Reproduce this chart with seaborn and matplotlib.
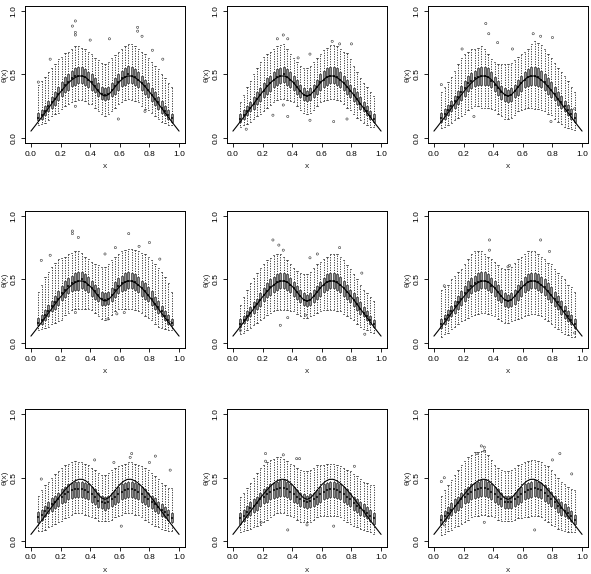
import numpy as np
import pandas as pd
import matplotlib
matplotlib.use("Agg")
import matplotlib.pyplot as plt
import seaborn as sns

# ---------------- data ----------------
xs = [0.05, 0.0725, 0.095, 0.1175, 0.14, 0.1625, 0.185, 0.2075, 0.23, 0.2525,
      0.275, 0.2975, 0.32, 0.3425, 0.365, 0.3875, 0.41, 0.4325, 0.455, 0.4775,
      0.5, 0.5225, 0.545, 0.5675, 0.59, 0.6125, 0.635, 0.6575, 0.68, 0.7025,
      0.725, 0.7475, 0.77, 0.7925, 0.815, 0.8375, 0.86, 0.8825, 0.905, 0.9275,
      0.95]

curve_x = [0.0, 0.025, 0.05, 0.075, 0.1, 0.125, 0.15, 0.175, 0.2, 0.225,
           0.25, 0.275, 0.3, 0.325, 0.35, 0.375, 0.4, 0.425, 0.45, 0.475,
           0.5, 0.525, 0.55, 0.575, 0.6, 0.625, 0.65, 0.675, 0.7, 0.725,
           0.75, 0.775, 0.8, 0.825, 0.85, 0.875, 0.9, 0.925, 0.95, 0.975, 1.0]
curve_y = [0.055, 0.092, 0.130, 0.168, 0.207, 0.246, 0.286, 0.325, 0.363, 0.398,
           0.430, 0.457, 0.477, 0.488, 0.487, 0.472, 0.446, 0.412, 0.375, 0.343,
           0.330, 0.343, 0.375, 0.412, 0.446, 0.472, 0.487, 0.488, 0.477, 0.457,
           0.430, 0.398, 0.363, 0.325, 0.286, 0.246, 0.207, 0.168, 0.130, 0.092, 0.055]

# panel 1
med_1 = [0.16,0.18,0.21,0.25,0.28,0.31,0.35,0.38,0.42,0.44, 0.47,0.49,0.49,0.49,0.48,0.46,0.44,0.41,0.38,0.35,
         0.34,0.35,0.38,0.41,0.44,0.47,0.48,0.50,0.49,0.48, 0.46,0.43,0.41,0.38,0.34,0.31,0.28,0.24,0.21,0.18, 0.16]
q1_1 = [0.14,0.15,0.18,0.21,0.24,0.26,0.30,0.33,0.36,0.38, 0.41,0.42,0.43,0.43,0.42,0.40,0.38,0.36,0.33,0.31,
        0.30,0.31,0.33,0.35,0.38,0.41,0.42,0.43,0.43,0.42, 0.40,0.38,0.35,0.32,0.29,0.26,0.23,0.20,0.18,0.15, 0.13]
q3_1 = [0.20,0.22,0.25,0.29,0.32,0.36,0.40,0.44,0.48,0.50, 0.53,0.55,0.56,0.56,0.54,0.52,0.50,0.47,0.43,0.40,
        0.39,0.40,0.43,0.47,0.50,0.53,0.55,0.57,0.56,0.54, 0.52,0.49,0.46,0.43,0.39,0.36,0.32,0.29,0.25,0.22, 0.19]
lo_1 = [0.10,0.11,0.12,0.14,0.17,0.19,0.20,0.23,0.25,0.27, 0.28,0.29,0.30,0.30,0.29,0.27,0.27,0.24,0.21,0.19,
        0.17,0.19,0.21,0.24,0.27,0.28,0.30,0.31,0.30,0.29, 0.28,0.25,0.23,0.22,0.20,0.17,0.15,0.13,0.12,0.10, 0.10]
hi_1 = [0.42,0.45,0.48,0.52,0.55,0.58,0.62,0.64,0.67,0.68, 0.70,0.72,0.72,0.71,0.70,0.68,0.66,0.63,0.61,0.59,
        0.58,0.60,0.63,0.65,0.68,0.70,0.72,0.74,0.74,0.72, 0.70,0.68,0.66,0.63,0.60,0.57,0.54,0.50,0.47,0.43, 0.40]
out_x_1 = [0.28, 0.30, 0.30, 0.30, 0.40, 0.53, 0.72, 0.72, 0.75, 0.82, 0.89, 0.13, 0.05, 0.30, 0.59, 0.77]
out_y_1 = [0.88, 0.92, 0.83, 0.81, 0.77, 0.78, 0.87, 0.84, 0.80, 0.69, 0.62, 0.62, 0.44, 0.25, 0.15, 0.21]

# panel 2
med_2 = [0.15,0.18,0.21,0.24,0.27,0.31,0.34,0.37,0.41,0.43, 0.46,0.48,0.49,0.50,0.48,0.46,0.43,0.40,0.37,0.34,
         0.33,0.34,0.37,0.40,0.44,0.46,0.48,0.49,0.49,0.48, 0.46,0.43,0.40,0.37,0.34,0.31,0.27,0.24,0.21,0.17, 0.15]
q1_2 = [0.13,0.15,0.18,0.21,0.23,0.27,0.29,0.32,0.35,0.37, 0.40,0.42,0.43,0.44,0.42,0.40,0.38,0.35,0.32,0.30,
        0.29,0.30,0.32,0.35,0.38,0.40,0.42,0.43,0.43,0.42, 0.40,0.38,0.35,0.32,0.29,0.27,0.23,0.21,0.18,0.15, 0.13]
q3_2 = [0.19,0.22,0.25,0.28,0.32,0.36,0.39,0.43,0.47,0.49, 0.52,0.54,0.55,0.56,0.54,0.52,0.49,0.46,0.42,0.39,
        0.37,0.39,0.42,0.46,0.50,0.53,0.55,0.56,0.56,0.55, 0.52,0.49,0.46,0.42,0.39,0.36,0.32,0.28,0.25,0.21, 0.19]
lo_2 = [0.09,0.10,0.11,0.13,0.15,0.17,0.19,0.21,0.24,0.26, 0.28,0.30,0.31,0.31,0.30,0.29,0.28,0.25,0.22,0.20,
        0.19,0.20,0.22,0.25,0.28,0.29,0.30,0.31,0.31,0.30, 0.29,0.27,0.24,0.22,0.19,0.16,0.14,0.12,0.10,0.09, 0.09]
hi_2 = [0.28,0.34,0.40,0.45,0.50,0.55,0.60,0.64,0.66,0.68, 0.70,0.72,0.73,0.74,0.70,0.66,0.63,0.60,0.57,0.55,
        0.55,0.57,0.60,0.63,0.66,0.69,0.71,0.73,0.73,0.72, 0.70,0.68,0.67,0.62,0.57,0.52,0.47,0.43,0.40,0.36, 0.33]
out_x_2 = [0.34, 0.30, 0.37, 0.44, 0.52, 0.72, 0.80, 0.67, 0.27, 0.37, 0.52, 0.77, 0.68, 0.09, 0.34]
out_y_2 = [0.81, 0.78, 0.78, 0.63, 0.66, 0.74, 0.74, 0.76, 0.18, 0.17, 0.14, 0.15, 0.13, 0.07, 0.26]

# panel 3
med_3 = [0.16,0.19,0.22,0.25,0.29,0.32,0.36,0.39,0.43,0.45, 0.47,0.48,0.49,0.49,0.48,0.45,0.42,0.39,0.36,0.34,
         0.33,0.34,0.37,0.40,0.43,0.46,0.48,0.49,0.49,0.48, 0.46,0.44,0.41,0.38,0.35,0.31,0.28,0.25,0.22,0.19, 0.16]
q1_3 = [0.13,0.15,0.18,0.21,0.24,0.27,0.30,0.33,0.37,0.39, 0.41,0.42,0.42,0.42,0.42,0.40,0.37,0.34,0.31,0.29,
        0.28,0.29,0.32,0.34,0.37,0.40,0.41,0.42,0.42,0.41, 0.40,0.38,0.35,0.32,0.30,0.26,0.24,0.21,0.18,0.15, 0.13]
q3_3 = [0.20,0.23,0.26,0.29,0.33,0.37,0.41,0.45,0.49,0.51, 0.53,0.55,0.56,0.56,0.55,0.52,0.48,0.45,0.41,0.39,
        0.38,0.39,0.42,0.46,0.49,0.52,0.54,0.56,0.56,0.55, 0.53,0.50,0.47,0.44,0.40,0.36,0.33,0.29,0.26,0.23, 0.20]
lo_3 = [0.08,0.09,0.10,0.12,0.14,0.16,0.17,0.19,0.22,0.24, 0.25,0.25,0.24,0.24,0.24,0.23,0.22,0.19,0.17,0.15,
        0.15,0.16,0.18,0.21,0.22,0.23,0.24,0.24,0.23,0.23, 0.22,0.21,0.19,0.18,0.15,0.13,0.11,0.09,0.08,0.07, 0.06]
hi_3 = [0.36,0.40,0.44,0.48,0.53,0.58,0.63,0.66,0.68,0.70, 0.70,0.71,0.72,0.70,0.66,0.62,0.60,0.58,0.58,0.58,
        0.58,0.59,0.61,0.64,0.66,0.68,0.70,0.74,0.76,0.75, 0.73,0.70,0.66,0.63,0.59,0.55,0.52,0.49,0.45,0.40, 0.36]
out_x_3 = [0.35, 0.37, 0.53, 0.67, 0.72, 0.80, 0.27, 0.79, 0.19, 0.43, 0.05, 0.95]
out_y_3 = [0.90, 0.82, 0.70, 0.82, 0.80, 0.79, 0.17, 0.13, 0.70, 0.75, 0.42, 0.23]

# panel 4
med_4 = [0.16,0.18,0.22,0.25,0.29,0.32,0.35,0.39,0.42,0.45, 0.47,0.48,0.49,0.50,0.48,0.46,0.43,0.41,0.38,0.35,
         0.34,0.35,0.38,0.42,0.45,0.47,0.48,0.49,0.49,0.48, 0.46,0.43,0.41,0.38,0.35,0.31,0.28,0.25,0.21,0.18, 0.16]
q1_4 = [0.14,0.15,0.18,0.21,0.25,0.27,0.30,0.34,0.36,0.39, 0.41,0.42,0.42,0.43,0.42,0.40,0.37,0.35,0.33,0.30,
        0.30,0.31,0.33,0.36,0.39,0.41,0.42,0.43,0.43,0.42, 0.40,0.37,0.35,0.33,0.30,0.27,0.24,0.21,0.18,0.15, 0.14]
q3_4 = [0.20,0.22,0.26,0.30,0.33,0.37,0.41,0.45,0.49,0.51, 0.53,0.55,0.56,0.56,0.54,0.52,0.49,0.46,0.43,0.40,
        0.39,0.40,0.43,0.48,0.51,0.53,0.55,0.56,0.55,0.54, 0.52,0.49,0.47,0.44,0.41,0.36,0.33,0.29,0.25,0.22, 0.19]
lo_4 = [0.10,0.11,0.12,0.13,0.15,0.16,0.17,0.18,0.22,0.24, 0.26,0.27,0.27,0.27,0.27,0.27,0.26,0.24,0.21,0.19,
        0.18,0.19,0.22,0.25,0.27,0.27,0.27,0.27,0.27,0.26, 0.25,0.24,0.21,0.20,0.18,0.15,0.13,0.12,0.11,0.10, 0.10]
hi_4 = [0.40,0.46,0.52,0.56,0.60,0.63,0.66,0.67,0.68,0.70, 0.71,0.72,0.72,0.71,0.68,0.66,0.64,0.62,0.61,0.60,
        0.60,0.62,0.65,0.68,0.70,0.72,0.73,0.74,0.74,0.73, 0.72,0.71,0.70,0.68,0.65,0.62,0.59,0.56,0.52,0.47, 0.40]
out_x_4 = [0.28, 0.28, 0.32, 0.66, 0.80, 0.73, 0.57, 0.07, 0.13, 0.87, 0.50, 0.52, 0.58, 0.30, 0.63, 0.94]
out_y_4 = [0.88, 0.86, 0.83, 0.86, 0.79, 0.76, 0.75, 0.65, 0.69, 0.66, 0.70, 0.19, 0.23, 0.24, 0.24, 0.16]

# panel 5
med_5 = [0.15,0.18,0.21,0.24,0.28,0.31,0.34,0.38,0.41,0.44, 0.46,0.48,0.49,0.49,0.48,0.46,0.43,0.40,0.37,0.34,
         0.33,0.34,0.37,0.40,0.43,0.46,0.48,0.49,0.49,0.48, 0.46,0.43,0.40,0.37,0.34,0.31,0.27,0.24,0.21,0.18, 0.15]
q1_5 = [0.13,0.16,0.18,0.21,0.24,0.27,0.29,0.33,0.36,0.38, 0.40,0.42,0.43,0.43,0.42,0.40,0.37,0.35,0.32,0.30,
        0.29,0.30,0.32,0.35,0.37,0.40,0.42,0.43,0.43,0.42, 0.40,0.37,0.35,0.32,0.29,0.26,0.23,0.21,0.18,0.15, 0.13]
q3_5 = [0.19,0.21,0.25,0.28,0.32,0.35,0.39,0.43,0.47,0.50, 0.52,0.54,0.55,0.55,0.54,0.51,0.48,0.45,0.42,0.39,
        0.38,0.39,0.42,0.45,0.48,0.51,0.54,0.55,0.55,0.54, 0.52,0.49,0.46,0.42,0.39,0.36,0.32,0.28,0.25,0.21, 0.18]
lo_5 = [0.07,0.08,0.10,0.12,0.14,0.16,0.18,0.20,0.22,0.24, 0.25,0.26,0.26,0.26,0.26,0.25,0.25,0.23,0.21,0.20,
        0.20,0.21,0.22,0.24,0.25,0.26,0.26,0.26,0.26,0.25, 0.25,0.23,0.21,0.20,0.18,0.15,0.13,0.11,0.10,0.09, 0.08]
hi_5 = [0.30,0.36,0.42,0.47,0.51,0.55,0.59,0.62,0.65,0.67, 0.69,0.70,0.70,0.68,0.65,0.62,0.59,0.57,0.55,0.54,
        0.54,0.56,0.59,0.62,0.64,0.66,0.68,0.70,0.70,0.70, 0.68,0.65,0.61,0.58,0.54,0.50,0.46,0.42,0.39,0.36, 0.33]
out_x_5 = [0.27, 0.31, 0.34, 0.72, 0.52, 0.57, 0.87, 0.32, 0.37, 0.49, 0.05, 0.89]
out_y_5 = [0.81, 0.77, 0.73, 0.75, 0.67, 0.70, 0.55, 0.14, 0.20, 0.22, 0.10, 0.07]

# panel 6
med_6 = [0.15,0.19,0.22,0.25,0.29,0.32,0.35,0.39,0.42,0.45, 0.47,0.48,0.49,0.49,0.48,0.45,0.43,0.40,0.37,0.34,
         0.33,0.34,0.37,0.40,0.43,0.46,0.48,0.49,0.49,0.48, 0.46,0.44,0.41,0.38,0.35,0.32,0.28,0.25,0.21,0.18, 0.15]
q1_6 = [0.12,0.15,0.18,0.21,0.24,0.27,0.30,0.33,0.36,0.39, 0.41,0.42,0.43,0.43,0.42,0.40,0.37,0.34,0.32,0.29,
        0.28,0.29,0.31,0.34,0.37,0.40,0.42,0.43,0.43,0.42, 0.40,0.38,0.35,0.32,0.29,0.27,0.23,0.20,0.17,0.15, 0.12]
q3_6 = [0.19,0.22,0.26,0.29,0.33,0.37,0.41,0.45,0.49,0.51, 0.53,0.55,0.56,0.56,0.54,0.51,0.49,0.46,0.42,0.39,
        0.38,0.39,0.42,0.46,0.49,0.52,0.54,0.55,0.55,0.54, 0.52,0.50,0.47,0.44,0.40,0.37,0.33,0.29,0.25,0.22, 0.19]
lo_6 = [0.05,0.07,0.08,0.11,0.13,0.15,0.17,0.18,0.20,0.21, 0.22,0.23,0.24,0.24,0.23,0.22,0.21,0.19,0.17,0.16,
        0.16,0.17,0.18,0.19,0.20,0.21,0.22,0.23,0.23,0.22, 0.21,0.19,0.17,0.15,0.13,0.11,0.09,0.07,0.06,0.05, 0.05]
hi_6 = [0.42,0.44,0.46,0.50,0.53,0.56,0.58,0.62,0.66,0.70, 0.72,0.72,0.72,0.70,0.68,0.66,0.64,0.61,0.59,0.58,
        0.58,0.60,0.63,0.66,0.68,0.70,0.72,0.72,0.72,0.70, 0.68,0.66,0.63,0.62,0.58,0.55,0.53,0.50,0.46,0.44, 0.40]
out_x_6 = [0.375, 0.375, 0.72, 0.78, 0.07, 0.50, 0.51, 0.95]
out_y_6 = [0.81, 0.73, 0.81, 0.72, 0.45, 0.60, 0.61, 0.08]

# panel 7
med_7 = [0.19,0.21,0.24,0.26,0.29,0.31,0.33,0.35,0.37,0.39, 0.40,0.41,0.41,0.41,0.40,0.39,0.37,0.35,0.32,0.31,
         0.30,0.31,0.33,0.35,0.37,0.39,0.40,0.41,0.41,0.40, 0.39,0.37,0.35,0.33,0.31,0.29,0.27,0.25,0.23,0.21, 0.18]
q1_7 = [0.15,0.17,0.20,0.22,0.24,0.26,0.28,0.30,0.31,0.33, 0.34,0.35,0.35,0.35,0.34,0.33,0.31,0.29,0.27,0.26,
        0.25,0.26,0.28,0.29,0.31,0.33,0.34,0.35,0.35,0.34, 0.33,0.31,0.29,0.28,0.26,0.24,0.22,0.20,0.19,0.17, 0.15]
q3_7 = [0.23,0.25,0.28,0.31,0.34,0.36,0.38,0.41,0.43,0.45, 0.46,0.47,0.47,0.47,0.46,0.45,0.43,0.41,0.38,0.36,
        0.35,0.36,0.38,0.40,0.43,0.45,0.46,0.47,0.47,0.46, 0.45,0.43,0.41,0.38,0.36,0.34,0.31,0.29,0.27,0.25, 0.22]
lo_7 = [0.08,0.08,0.09,0.11,0.12,0.14,0.15,0.16,0.18,0.19, 0.21,0.22,0.22,0.22,0.21,0.20,0.19,0.18,0.16,0.16,
        0.16,0.16,0.17,0.19,0.20,0.21,0.22,0.22,0.22,0.21, 0.21,0.19,0.17,0.15,0.14,0.12,0.11,0.10,0.09,0.08, 0.08]
hi_7 = [0.36,0.40,0.44,0.47,0.50,0.53,0.55,0.58,0.60,0.61, 0.62,0.63,0.62,0.62,0.61,0.60,0.58,0.56,0.54,0.52,
        0.52,0.54,0.56,0.58,0.59,0.60,0.61,0.62,0.62,0.61, 0.60,0.59,0.58,0.56,0.54,0.51,0.49,0.46,0.44,0.42, 0.42]
out_x_7 = [0.43, 0.68, 0.67, 0.84, 0.94, 0.80, 0.07, 0.56, 0.61]
out_y_7 = [0.64, 0.69, 0.66, 0.67, 0.56, 0.62, 0.49, 0.62, 0.12]

# panel 8
med_8 = [0.18,0.20,0.23,0.26,0.28,0.30,0.33,0.35,0.37,0.39, 0.40,0.41,0.42,0.42,0.41,0.39,0.37,0.35,0.33,0.32,
         0.31,0.32,0.33,0.35,0.37,0.39,0.40,0.41,0.41,0.40, 0.39,0.37,0.35,0.33,0.30,0.28,0.26,0.24,0.22,0.20, 0.18]
q1_8 = [0.14,0.16,0.19,0.21,0.23,0.25,0.28,0.30,0.31,0.33, 0.34,0.35,0.36,0.36,0.35,0.33,0.31,0.30,0.28,0.27,
        0.26,0.27,0.28,0.29,0.31,0.33,0.34,0.35,0.35,0.34, 0.33,0.31,0.29,0.28,0.25,0.23,0.21,0.20,0.18,0.16, 0.14]
q3_8 = [0.22,0.25,0.28,0.31,0.33,0.35,0.38,0.41,0.43,0.45, 0.46,0.47,0.48,0.48,0.47,0.45,0.43,0.40,0.38,0.37,
        0.36,0.37,0.38,0.40,0.43,0.45,0.46,0.47,0.47,0.46, 0.45,0.43,0.41,0.38,0.35,0.33,0.31,0.29,0.27,0.25, 0.22]
lo_8 = [0.07,0.08,0.09,0.10,0.11,0.12,0.13,0.15,0.17,0.19, 0.21,0.22,0.22,0.22,0.21,0.20,0.19,0.17,0.15,0.15,
        0.15,0.15,0.17,0.19,0.20,0.20,0.20,0.20,0.20,0.20, 0.19,0.17,0.15,0.14,0.12,0.11,0.10,0.09,0.08,0.07, 0.06]
hi_8 = [0.35,0.38,0.42,0.46,0.50,0.54,0.58,0.60,0.62,0.64, 0.65,0.66,0.66,0.65,0.63,0.61,0.60,0.58,0.56,0.55,
        0.55,0.56,0.58,0.60,0.60,0.60,0.61,0.61,0.61,0.60, 0.59,0.58,0.56,0.55,0.53,0.51,0.49,0.47,0.46,0.44, 0.44]
out_x_8 = [0.22, 0.34, 0.43, 0.45, 0.22, 0.19, 0.37, 0.68, 0.50, 0.82]
out_y_8 = [0.69, 0.68, 0.65, 0.65, 0.63, 0.15, 0.09, 0.12, 0.13, 0.59]

# panel 9
med_9 = [0.17,0.20,0.22,0.25,0.28,0.30,0.33,0.35,0.37,0.39, 0.40,0.41,0.42,0.42,0.41,0.39,0.37,0.35,0.33,0.31,
         0.31,0.31,0.33,0.35,0.37,0.39,0.40,0.41,0.42,0.41, 0.40,0.38,0.36,0.33,0.31,0.28,0.26,0.24,0.22,0.20, 0.17]
q1_9 = [0.14,0.16,0.18,0.21,0.23,0.25,0.27,0.30,0.31,0.33, 0.34,0.35,0.36,0.36,0.35,0.33,0.31,0.29,0.28,0.26,
        0.26,0.26,0.28,0.29,0.31,0.33,0.34,0.35,0.36,0.35, 0.34,0.32,0.30,0.28,0.26,0.23,0.21,0.20,0.18,0.16, 0.14]
q3_9 = [0.21,0.24,0.27,0.30,0.33,0.35,0.38,0.41,0.43,0.45, 0.46,0.47,0.48,0.48,0.47,0.45,0.43,0.41,0.38,0.36,
        0.36,0.36,0.38,0.41,0.43,0.45,0.46,0.47,0.48,0.47, 0.46,0.44,0.42,0.39,0.36,0.33,0.31,0.29,0.27,0.24, 0.21]
lo_9 = [0.05,0.06,0.08,0.09,0.11,0.12,0.14,0.15,0.17,0.19, 0.20,0.20,0.21,0.21,0.20,0.20,0.19,0.17,0.16,0.16,
        0.16,0.16,0.17,0.18,0.18,0.19,0.19,0.20,0.20,0.20, 0.19,0.17,0.15,0.13,0.12,0.10,0.09,0.08,0.07,0.07, 0.07]
hi_9 = [0.36,0.40,0.44,0.48,0.52,0.56,0.60,0.63,0.66,0.68, 0.70,0.70,0.71,0.72,0.68,0.64,0.60,0.58,0.56,0.55,
        0.55,0.56,0.58,0.60,0.61,0.62,0.63,0.64,0.64,0.63, 0.62,0.60,0.59,0.56,0.53,0.50,0.47,0.45,0.43,0.41, 0.40]
out_x_9 = [0.32, 0.34, 0.29, 0.34, 0.85, 0.80, 0.93, 0.68, 0.34, 0.07, 0.05, 0.07]
out_y_9 = [0.75, 0.74, 0.69, 0.71, 0.69, 0.64, 0.53, 0.09, 0.15, 0.13, 0.47, 0.50]

x_ticks = [0.0, 0.2, 0.4, 0.6, 0.8, 1.0]
x_tick_labels = ["0.0", "0.2", "0.4", "0.6", "0.8", "1.0"]
y_ticks = [0.0, 0.5, 1.0]
y_tick_labels = ["0.0", "0.5", "1.0"]
x_label = "x"
y_label = "θ(x)"

panels = [
    (med_1, q1_1, q3_1, lo_1, hi_1, out_x_1, out_y_1),
    (med_2, q1_2, q3_2, lo_2, hi_2, out_x_2, out_y_2),
    (med_3, q1_3, q3_3, lo_3, hi_3, out_x_3, out_y_3),
    (med_4, q1_4, q3_4, lo_4, hi_4, out_x_4, out_y_4),
    (med_5, q1_5, q3_5, lo_5, hi_5, out_x_5, out_y_5),
    (med_6, q1_6, q3_6, lo_6, hi_6, out_x_6, out_y_6),
    (med_7, q1_7, q3_7, lo_7, hi_7, out_x_7, out_y_7),
    (med_8, q1_8, q3_8, lo_8, hi_8, out_x_8, out_y_8),
    (med_9, q1_9, q3_9, lo_9, hi_9, out_x_9, out_y_9),
]

# ---------------- style ----------------
sns.set_style("ticks")
plt.rcParams["font.family"] = ["Liberation Sans", "DejaVu Sans"]
plt.rcParams["axes.linewidth"] = 0.8
plt.rcParams["axes.edgecolor"] = "black"

W, H = 591, 574
fig = plt.figure(figsize=(W / 100, H / 100), dpi=100)

col_left = [25, 227, 428]
row_top = [5.7, 210.7, 409]
ax_w, ax_h = 160, 137.5

for k, (med, q1, q3, lo, hi, ox, oy) in enumerate(panels):
    r, c = divmod(k, 3)
    left = col_left[c] / W
    bottom = 1 - (row_top[r] + ax_h) / H
    ax = fig.add_axes([left, bottom, ax_w / W, ax_h / H])

    n = len(xs)
    for arr in (med, q1, q3, lo, hi):
        assert len(arr) == n, (k, len(arr))
    xx, yy = [], []
    for i in range(n):
        for v in (lo[i], q1[i], med[i], q3[i], hi[i]):
            xx.append(xs[i])
            yy.append(v)
    df = pd.DataFrame({"x": xx, "y": yy})

    sns.boxplot(data=df, x="x", y="y", native_scale=True, ax=ax,
                whis=(0, 100), width=0.62, color="#8f8f8f", saturation=1,
                linecolor="#222222", linewidth=0.45, showfliers=False,
                medianprops=dict(color="black", linewidth=1.1),
                whiskerprops=dict(linestyle=(0, (1.2, 1.4)), linewidth=0.7, color="#333333"),
                capprops=dict(linewidth=0.6, color="#333333"))
    sns.scatterplot(x=ox, y=oy, ax=ax, marker="o", s=2.5, facecolors="none",
                    edgecolor="#333333", linewidth=0.4, legend=False)
    sns.lineplot(x=curve_x, y=curve_y, ax=ax, color="black", linewidth=0.8,
                 estimator=None, sort=False)

    ax.set_xlim(-0.04, 1.04)
    ax.set_ylim(-0.04, 1.04)
    ax.set_xticks(x_ticks)
    ax.set_xticklabels(x_tick_labels, fontsize=6)
    ax.set_yticks(y_ticks)
    ax.set_yticklabels(y_tick_labels, fontsize=6, rotation=90, va="center")
    ax.tick_params(length=3, width=0.6, pad=2.5, colors="black")
    ax.set_xlabel(x_label, fontsize=6, labelpad=4)
    ax.set_ylabel(y_label, fontsize=6, labelpad=1.5)
    for s in ax.spines.values():
        s.set_visible(True)
        s.set_linewidth(0.7)
    ax.grid(False)

fig.savefig("out.png", dpi=100, facecolor="white")
